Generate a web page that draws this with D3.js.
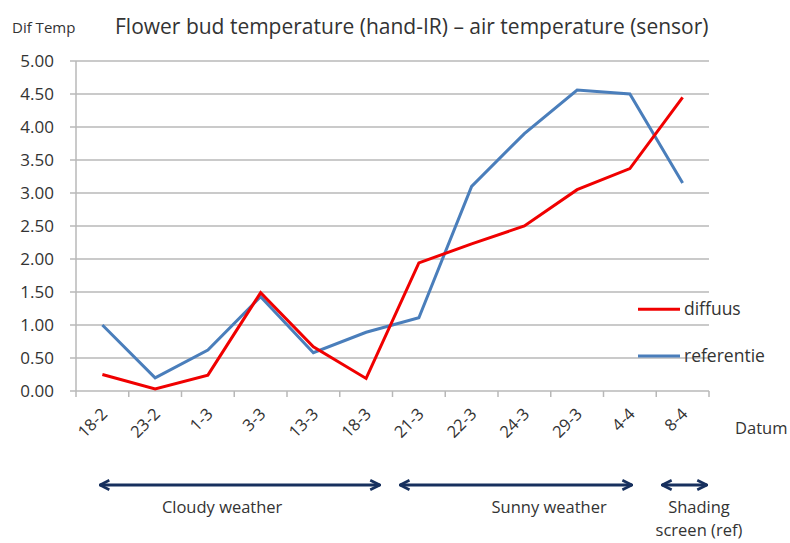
<!DOCTYPE html>
<html>
<head>
<meta charset="utf-8">
<script src="https://cdn.jsdelivr.net/npm/d3@7"></script>
<style>
  body { margin: 0; background: #fff; }
  text { font-family: "Open Sans", Lato, sans-serif; fill: #333; font-variant-ligatures: none; }
</style>
</head>
<body>
<div id="chart"></div>
<script>
// data
const categories = ['18-2', '23-2', '1-3', '3-3', '13-3', '18-3', '21-3', '22-3', '24-3', '29-3', '4-4', '8-4'];
const diffuus    = [0.25, 0.03, 0.24, 1.49, 0.67, 0.19, 1.94, 2.23, 2.50, 3.05, 3.37, 4.45];
const referentie = [1.00, 0.20, 0.62, 1.43, 0.58, 0.89, 1.11, 3.10, 3.90, 4.56, 4.50, 3.15];
const yTicks = [0, 0.5, 1, 1.5, 2, 2.5, 3, 3.5, 4, 4.5, 5];
// periods below the axis, in category-index units
const periodNames = [['Cloudy weather'], ['Sunny weather'], ['Shading', 'screen (ref)']];
const periodStart = [-0.05, 5.64, 10.61];
const periodEnd   = [5.26, 10.04, 11.46];
const periodLabel = [2.27, 8.47, 11.31];

const width = 790, height = 543;
const margin = { top: 61, right: 81, bottom: 152, left: 76 };
const innerW = width - margin.left - margin.right;
const innerH = height - margin.top - margin.bottom;

const svg = d3.select('#chart').append('svg')
    .attr('width', width)
    .attr('height', height);

const plot = svg.append('g')
    .attr('transform', `translate(${margin.left},${margin.top})`);

const x = d3.scaleBand().domain(categories).range([0, innerW]);
const xi = d3.scaleLinear().domain([-0.5, categories.length - 0.5]).range([0, innerW]);
const y = d3.scaleLinear().domain([0, 5]).range([innerH, 0]);

// grid lines
plot.append('g')
    .selectAll('line')
    .data(yTicks)
    .enter().append('line')
    .attr('x1', -6)
    .attr('x2', innerW)
    .attr('y1', d => y(d))
    .attr('y2', d => y(d))
    .attr('stroke', '#b8b8b8')
    .attr('stroke-width', 1.5);

// y axis
const yAxis = d3.axisLeft(y)
    .tickValues(yTicks)
    .tickSize(0)
    .tickPadding(22)
    .tickFormat(d3.format('.2f'));

const yg = plot.append('g').call(yAxis);
yg.select('.domain').remove();
yg.selectAll('text')
    .style('font-size', '17px')
    .attr('fill', '#404040');

plot.append('line')
    .attr('x1', 0).attr('x2', 0)
    .attr('y1', 0).attr('y2', innerH)
    .attr('stroke', '#b8b8b8')
    .attr('stroke-width', 1.5);

// x axis: ticks sit between categories
const xAxis = d3.axisBottom(x).tickSize(0).tickPadding(0);
const xg = plot.append('g')
    .attr('transform', `translate(0,${innerH})`)
    .call(xAxis);
xg.select('.domain').remove();
xg.selectAll('text')
    .style('font-size', '16.5px')
    .attr('fill', '#404040')
    .attr('text-anchor', 'end')
    .attr('dy', '0.35em')
    .attr('transform', 'translate(2,20) rotate(-45)');

plot.append('g')
    .selectAll('line')
    .data(d3.range(categories.length + 1))
    .enter().append('line')
    .attr('x1', d => xi(d - 0.5))
    .attr('x2', d => xi(d - 0.5))
    .attr('y1', innerH)
    .attr('y2', innerH + 6)
    .attr('stroke', '#b8b8b8')
    .attr('stroke-width', 1.5);

// lines
const line = d3.line()
    .x((d, i) => x(categories[i]) + x.bandwidth() / 2)
    .y(d => y(d));

plot.append('path')
    .datum(referentie)
    .attr('fill', 'none')
    .attr('stroke', '#4a7ebb')
    .attr('stroke-width', 3)
    .attr('d', line);

plot.append('path')
    .datum(diffuus)
    .attr('fill', 'none')
    .attr('stroke', '#f00000')
    .attr('stroke-width', 3)
    .attr('d', line);

// legend
const legend = [['diffuus', '#f00000', 1.24], ['referentie', '#4a7ebb', 0.53]];
const lg = plot.selectAll('.legend')
    .data(legend)
    .enter().append('g')
    .attr('transform', d => `translate(${innerW - 71},${y(d[2])})`);
lg.append('line')
    .attr('x1', 0).attr('x2', 42)
    .attr('stroke', d => d[1])
    .attr('stroke-width', 3);
lg.append('text')
    .attr('x', 46)
    .attr('dy', '0.35em')
    .style('font-size', '17.5px')
    .attr('fill', '#404040')
    .text(d => d[0]);

// titles
svg.append('text')
    .attr('x', 12).attr('y', 33)
    .style('font-size', '15px')
    .attr('fill', '#404040')
    .text('Dif Temp');

svg.append('text')
    .attr('x', 115).attr('y', 34)
    .style('font-size', '21px')
    .attr('fill', '#222')
    .text('Flower bud temperature (hand-IR) \u2013 air temperature (sensor)');

svg.append('text')
    .attr('x', 735).attr('y', 434)
    .style('font-size', '16.5px')
    .attr('fill', '#404040')
    .text('Datum');

// period arrows
svg.append('defs').append('marker')
    .attr('id', 'head')
    .attr('viewBox', '0 0 10 10')
    .attr('refX', 9).attr('refY', 5)
    .attr('markerWidth', 4).attr('markerHeight', 4)
    .attr('orient', 'auto-start-reverse')
    .append('path')
    .attr('d', 'M1,1 L9,5 L1,9')
    .attr('fill', 'none')
    .attr('stroke', '#17305e')
    .attr('stroke-width', 2.2);

const arrowY = innerH + 94;
const periods = plot.selectAll('.period')
    .data(periodNames)
    .enter().append('g');

periods.append('line')
    .attr('x1', (d, i) => xi(periodStart[i]))
    .attr('x2', (d, i) => xi(periodEnd[i]))
    .attr('y1', arrowY).attr('y2', arrowY)
    .attr('stroke', '#17305e')
    .attr('stroke-width', 3)
    .attr('marker-start', 'url(#head)')
    .attr('marker-end', 'url(#head)');

periods.append('text')
    .attr('x', (d, i) => xi(periodLabel[i]))
    .attr('y', arrowY + 28)
    .attr('text-anchor', 'middle')
    .style('font-size', '16.5px')
    .attr('fill', '#333')
    .selectAll('tspan')
    .data(d => d)
    .enter().append('tspan')
    .attr('x', function() { return this.parentNode.getAttribute('x'); })
    .attr('dy', (d, j) => j === 0 ? 0 : 23)
    .text(d => d);
</script>
</body>
</html>
